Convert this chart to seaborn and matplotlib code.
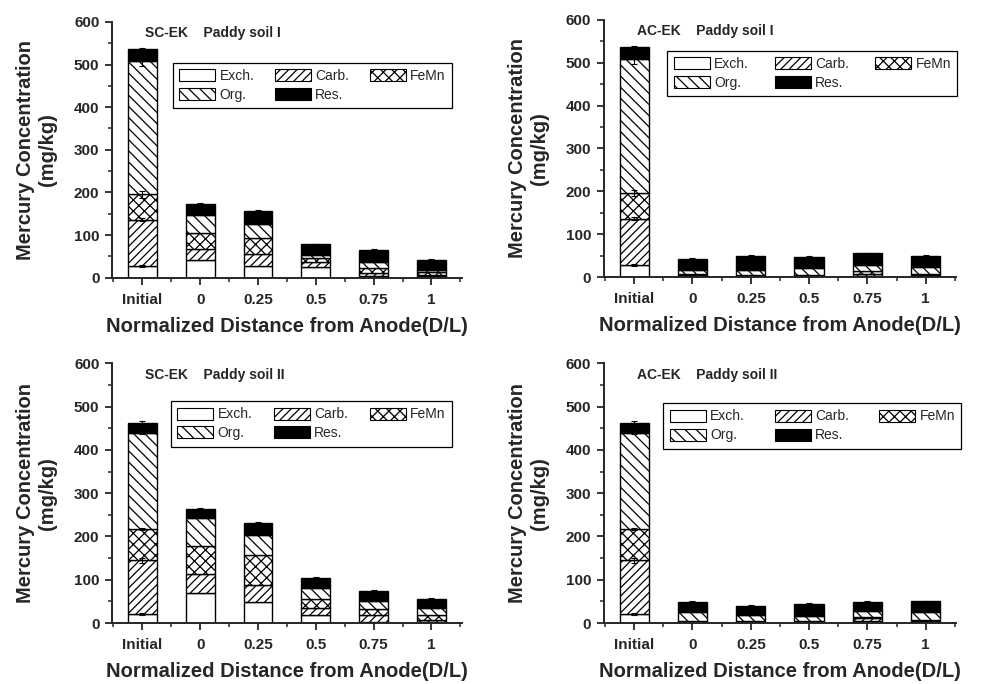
import numpy as np
import pandas as pd
import seaborn as sns
import matplotlib.pyplot as plt
from matplotlib.patches import Patch
from matplotlib.ticker import MultipleLocator

# ===============================
# Data (mg/kg)
# ===============================
POSITIONS = ["Initial", "0", "0.25", "0.5", "0.75", "1"]
FRACTIONS = ["Exch.", "Carb.", "FeMn", "Org.", "Res."]

# SC-EK, paddy soil I
sc1_exch = [28, 42, 28, 26, 3, 3]
sc1_carb = [108, 26, 28, 12, 9, 4]
sc1_femn = [60, 37, 37, 9, 11, 6]
sc1_org = [312, 41, 33, 7, 15, 6]
sc1_res = [28, 27, 30, 24, 27, 23]
sc1_err = [3, 3, 2, 2, 2, 2]

# AC-EK, paddy soil I
ac1_exch = [28, 2, 2, 2, 3, 3]
ac1_carb = [108, 2, 2, 2, 5, 2]
ac1_femn = [60, 2, 1, 1, 5, 3]
ac1_org = [312, 10, 11, 15, 15, 15]
ac1_res = [28, 27, 34, 26, 27, 26]
ac1_err = [3, 2, 2, 2, 2, 2]

# SC-EK, paddy soil II
sc2_exch = [21, 69, 48, 18, 2, 3]
sc2_carb = [124, 45, 40, 18, 17, 5]
sc2_femn = [72, 63, 70, 20, 14, 10]
sc2_org = [223, 65, 46, 26, 19, 17]
sc2_res = [23, 22, 27, 23, 23, 21]
sc2_err = [3, 2, 2, 2, 2, 2]

# AC-EK, paddy soil II
ac2_exch = [21, 4, 2, 2, 5, 3]
ac2_carb = [124, 1, 2, 2, 7, 3]
ac2_femn = [72, 1, 2, 1, 2, 2]
ac2_org = [223, 19, 12, 12, 13, 17]
ac2_res = [23, 23, 22, 27, 21, 25]
ac2_err = [3, 2, 2, 2, 2, 2]

# error on the layer tops of the initial soil (Exch, Carb, FeMn, Org)
init_err_I = [2, 3, 8, 12]
init_err_II = [2, 6, 3, 3]

# ===============================
# Style
# ===============================
FILLS = ["white", "white", "white", "white", "black"]
HATCHES = [None, "////", "xxx", "\\\\\\", None]

sns.set_style("ticks")
plt.rcParams["font.family"] = ["Liberation Sans", "DejaVu Sans"]
plt.rcParams["hatch.linewidth"] = 0.9
plt.rcParams["axes.linewidth"] = 1.4


def draw_panel(ax, layers, top_err, init_err, title, leg_box):
    stack = np.array(layers, dtype=float)
    bottoms = np.vstack([np.zeros(stack.shape[1]), np.cumsum(stack, axis=0)[:-1]])

    for i, name in enumerate(FRACTIONS):
        df = pd.DataFrame({"position": POSITIONS, "value": stack[i]})
        sns.barplot(
            data=df, x="position", y="value", order=POSITIONS,
            bottom=bottoms[i], color=FILLS[i], hatch=HATCHES[i],
            edgecolor="black", linewidth=1.0, width=0.5,
            saturation=1, errorbar=None, ax=ax,
        )

    # error bars: bar totals + layer tops of the initial soil
    tops = np.cumsum(stack, axis=0)
    ax.errorbar(np.arange(len(POSITIONS)), tops[-1], yerr=top_err, fmt="none",
                ecolor="black", elinewidth=0.8, capsize=2.5, capthick=0.8)
    ax.errorbar(np.zeros(len(init_err)), tops[:-1, 0], yerr=init_err, fmt="none",
                ecolor="black", elinewidth=0.8, capsize=2.5, capthick=0.8)

    ax.set_ylim(0, 600)
    ax.yaxis.set_major_locator(MultipleLocator(100))
    ax.yaxis.set_minor_locator(MultipleLocator(50))
    ax.xaxis.set_minor_locator(MultipleLocator(1, offset=0.5))
    ax.tick_params(which="major", direction="out", length=5, width=1.3, labelsize=11)
    ax.tick_params(which="minor", direction="out", length=3, width=1.1)
    ax.tick_params(axis="x", which="major", pad=6)
    ax.tick_params(axis="y", which="major", pad=4)
    for lab in ax.get_xticklabels() + ax.get_yticklabels():
        lab.set_fontweight("bold")

    ax.set_xlabel("Normalized Distance from Anode(D/L)", fontsize=14.5, fontweight="bold", labelpad=7)
    ax.set_ylabel("Mercury Concentration\n(mg/kg)", fontsize=14.5, fontweight="bold", labelpad=12)
    sns.despine(ax=ax)

    ax.text(0.095, 0.955, title, transform=ax.transAxes, fontsize=10,
            fontweight="bold", va="center", ha="left")

    handles = [Patch(facecolor=FILLS[i], edgecolor="black", hatch=HATCHES[i],
                     linewidth=0.8, label=FRACTIONS[i]) for i in range(5)]
    order = [0, 3, 1, 4, 2]  # fill the 3-column legend row by row
    leg = ax.legend([handles[k] for k in order], [FRACTIONS[k] for k in order],
                    ncol=3, loc="upper left", bbox_to_anchor=leg_box, mode="expand",
                    fontsize=10, frameon=True, fancybox=False, framealpha=1,
                    edgecolor="black", handlelength=2.6, handleheight=0.95,
                    handletextpad=0.3, columnspacing=0.6, labelspacing=0.35,
                    borderpad=0.45, borderaxespad=0)
    leg.get_frame().set_linewidth(0.9)


# ===============================
# Figure
# ===============================
fig = plt.figure(figsize=(9.91, 6.84), dpi=100)

ax1 = fig.add_axes([0.113, 0.594, 0.353, 0.374])
ax2 = fig.add_axes([0.609, 0.595, 0.356, 0.376])
ax3 = fig.add_axes([0.113, 0.089, 0.353, 0.380])
ax4 = fig.add_axes([0.609, 0.089, 0.356, 0.380])

draw_panel(ax1, [sc1_exch, sc1_carb, sc1_femn, sc1_org, sc1_res], sc1_err, init_err_I,
           "SC-EK    Paddy soil I", (0.174, 0.84, 0.797, 0))
draw_panel(ax2, [ac1_exch, ac1_carb, ac1_femn, ac1_org, ac1_res], ac1_err, init_err_I,
           "AC-EK    Paddy soil I", (0.181, 0.88, 0.822, 0))
draw_panel(ax3, [sc2_exch, sc2_carb, sc2_femn, sc2_org, sc2_res], sc2_err, init_err_II,
           "SC-EK    Paddy soil II", (0.169, 0.854, 0.802, 0))
draw_panel(ax4, [ac2_exch, ac2_carb, ac2_femn, ac2_org, ac2_res], ac2_err, init_err_II,
           "AC-EK    Paddy soil II", (0.17, 0.846, 0.844, 0))

fig.savefig("out.png", dpi=100)
